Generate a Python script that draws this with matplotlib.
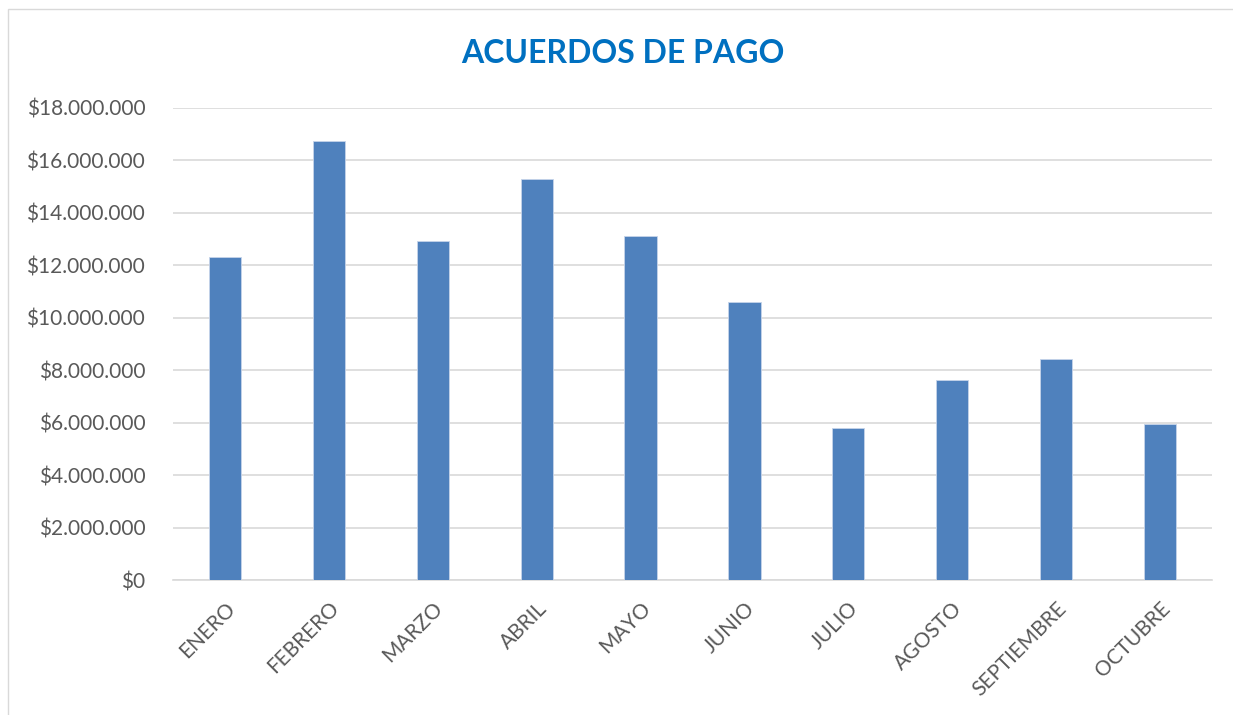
import matplotlib
matplotlib.use("Agg")
import matplotlib.pyplot as plt
from matplotlib.patches import Rectangle
from matplotlib.ticker import FuncFormatter, MultipleLocator

meses = ["ENERO", "FEBRERO", "MARZO", "ABRIL", "MAYO", "JUNIO",
         "JULIO", "AGOSTO", "SEPTIEMBRE", "OCTUBRE"]
valores = [12320000, 16740000, 12930000, 15290000, 13120000,
           10600000, 5800000, 7630000, 8430000, 5950000]

plt.rcParams['font.family'] = ['Lato', 'DejaVu Sans']

fig = plt.figure(figsize=(12.33, 7.15), dpi=100)
ax = fig.add_axes([0.1403, 0.1888, 0.8427, 0.6602])

# borde del grafico
fig.patches.append(Rectangle((0.0065, -0.01), 1.0, 0.997, transform=fig.transFigure,
                             fill=False, edgecolor='#d9d9d9', linewidth=1.0))

x = range(len(meses))
ax.bar(x, valores, width=0.31, color='#4f81bd', edgecolor='#c6d4e9', linewidth=0.6, zorder=3)

ax.set_xlim(-0.5, len(meses) - 0.5)
ax.set_ylim(0, 18000000)
ax.yaxis.set_major_locator(MultipleLocator(2000000))
ax.yaxis.set_major_formatter(FuncFormatter(lambda v, p: "$" + f"{int(v):,}".replace(",", ".")))
ax.grid(axis='y', color='#d9d9d9', linewidth=1.2, zorder=0)

for s in ['top', 'right', 'left']:
    ax.spines[s].set_visible(False)
ax.spines['bottom'].set_color('#d9d9d9')
ax.spines['bottom'].set_linewidth(1.2)

ax.set_xticks(list(x))
ax.set_xticklabels(meses, rotation=45, ha='right', rotation_mode='anchor')
ax.tick_params(axis='both', length=0, labelsize=15, colors='#595959')
ax.tick_params(axis='x', pad=13)
ax.tick_params(axis='y', pad=20)
for lbl in ax.get_yticklabels():
    lbl.set_horizontalalignment('right')

fig.text(0.505, 0.925, "ACUERDOS DE PAGO", ha='center', va='center',
         fontsize=23, fontweight='bold', color='#0070c0')

fig.savefig("out.png", dpi=100)
